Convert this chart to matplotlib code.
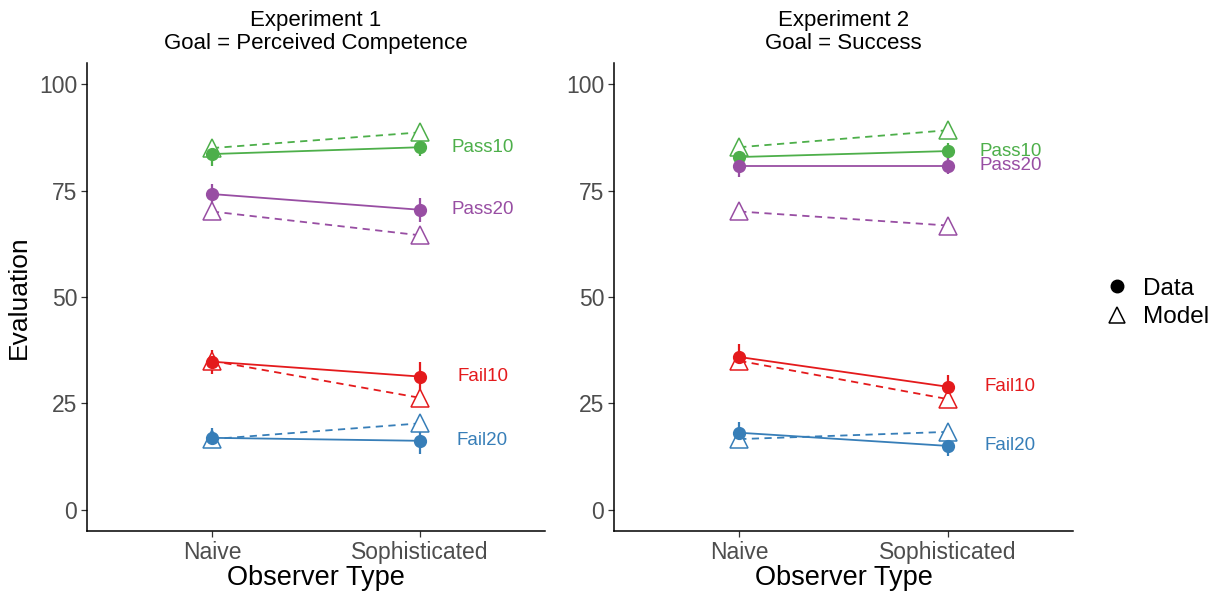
import matplotlib
matplotlib.use("Agg")
import matplotlib.pyplot as plt
from matplotlib.lines import Line2D

plt.rcParams['font.family'] = ['Liberation Sans', 'DejaVu Sans']

observers = ["Naive", "Sophisticated"]
conditions = ["Pass10", "Pass20", "Fail10", "Fail20"]
colors = {"Pass10": "#4DAF4A", "Pass20": "#984EA3", "Fail10": "#E41A1C", "Fail20": "#377EB8"}

titles = ["Experiment 1\nGoal = Perceived Competence", "Experiment 2\nGoal = Success"]

# experiment 1
exp1_data = {"Pass10": [83.6, 85.2], "Pass20": [74.2, 70.5], "Fail10": [34.8, 31.3], "Fail20": [16.9, 16.2]}
exp1_err = {"Pass10": [2.8, 2.0], "Pass20": [2.3, 2.8], "Fail10": [2.8, 3.5], "Fail20": [2.3, 3.0]}
exp1_model = {"Pass10": [85.0, 88.7], "Pass20": [70.1, 64.5], "Fail10": [35.0, 26.3], "Fail20": [16.6, 20.3]}

# experiment 2
exp2_data = {"Pass10": [82.9, 84.3], "Pass20": [80.8, 80.8], "Fail10": [35.9, 28.9], "Fail20": [18.1, 15.0]}
exp2_err = {"Pass10": [2.2, 2.0], "Pass20": [2.6, 2.0], "Fail10": [3.0, 2.8], "Fail20": [2.6, 2.3]}
exp2_model = {"Pass10": [85.2, 89.2], "Pass20": [70.1, 66.8], "Fail10": [35.0, 26.0], "Fail20": [16.6, 18.3]}

experiments = [(exp1_data, exp1_err, exp1_model), (exp2_data, exp2_err, exp2_model)]

W, H = 1215, 596
fig = plt.figure(figsize=(W / 100, H / 100), dpi=100)

boxes = [(87, 545), (614, 1073)]
top, bottom = 63, 531
xs = [1, 2]

for i, (data, err, model) in enumerate(experiments):
    x0, x1 = boxes[i]
    ax = fig.add_axes([x0 / W, (H - bottom) / H, (x1 - x0) / W, (bottom - top) / H])
    for c in conditions:
        col = colors[c]
        ax.errorbar(xs, data[c], yerr=err[c], fmt='none', ecolor=col, elinewidth=1.6, capsize=0, zorder=2)
        ax.plot(xs, model[c], color=col, ls=(0, (4, 3)), lw=1.3, marker='^', ms=13,
                mfc='white', mec=col, mew=1.1, zorder=3)
        ax.plot(xs, data[c], color=col, ls='-', lw=1.3, marker='o', ms=8.5,
                mfc=col, mec=col, zorder=4)
        ax.text(2.3, data[c][1], c, color=col, fontsize=13.5, ha='center', va='center')
    ax.set_xlim(0.4, 2.6)
    ax.set_ylim(-5, 105)
    ax.set_xticks(xs)
    ax.set_xticklabels(observers)
    ax.set_yticks([0, 25, 50, 75, 100])
    for s in ['top', 'right']:
        ax.spines[s].set_visible(False)
    for s in ['left', 'bottom']:
        ax.spines[s].set_linewidth(1.1)
    ax.tick_params(colors='#333333', labelcolor='#4D4D4D', labelsize=16.5, length=4, width=0.9, pad=3)
    ax.set_xlabel("Observer Type", fontsize=19.5, labelpad=1)
    ax.set_title(titles[i], fontsize=16, pad=10, linespacing=1.12)
    if i == 0:
        ax.set_ylabel("Evaluation", fontsize=19, labelpad=6)

handles = [Line2D([], [], ls='none', marker='o', ms=9, color='black'),
           Line2D([], [], ls='none', marker='^', ms=12, mfc='white', mec='black', mew=1.1)]
fig.legend(handles, ["Data", "Model"], loc='center left', bbox_to_anchor=(1083 / W, 1 - 303 / H),
           frameon=False, fontsize=17.5, handlelength=1.0, handletextpad=0.55, labelspacing=0.28)

fig.savefig("out.png", dpi=100)
